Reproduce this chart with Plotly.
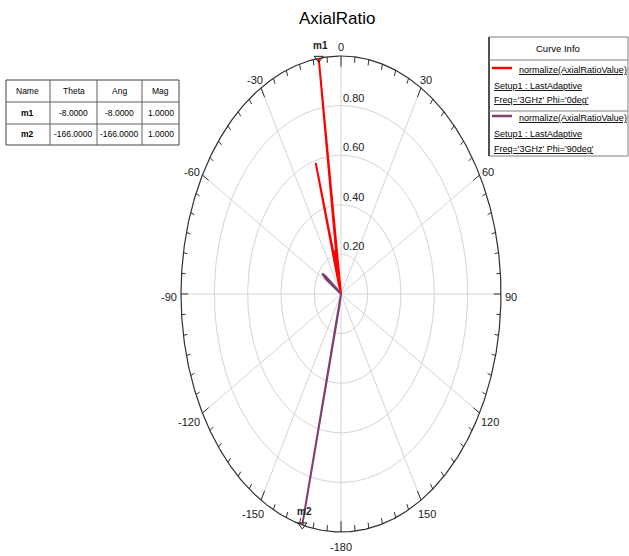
import numpy as np
import plotly.graph_objects as go

# ---- data -------------------------------------------------------------
# normalize(AxialRatioValue), Freq='3GHz', Phi='0deg'
theta_phi0 = [-180, -90, -40, -26, -22, -20, -18, -16, -14, -12, -10, -8, -6, -4, -2, 0, 30, 90, 180]
ar_phi0 = [0.0, 0.0, 0.01, 0.02, 0.03, 0.04, 0.10, 0.59, 0.12, 0.22, 0.20, 1.0, 0.10, 0.04, 0.02, 0.0, 0.0, 0.0, 0.0]

# normalize(AxialRatioValue), Freq='3GHz', Phi='90deg'
theta_phi90 = [-180, -174, -170, -168, -166, -164, -162, -158, -120, -90, -60, -58, -56, -54, -52, -50, -48, -40, 0, 90, 180]
ar_phi90 = [0.03, 0.04, 0.06, 0.10, 1.0, 0.08, 0.05, 0.03, 0.02, 0.02, 0.04, 0.06, 0.15, 0.18, 0.16, 0.08, 0.05, 0.02, 0.0, 0.0, 0.03]

# marker table
marker_names = ["m1", "m2"]
marker_theta = [-8.0, -166.0]
marker_ang = [-8.0, -166.0]
marker_mag = [1.0, 1.0]

ring_values = [0.2, 0.4, 0.6, 0.8]
angle_labels = [0, 30, 60, 90, 120, 150, -180, -150, -120, -90, -60, -30]

curve_names = ["normalize(AxialRatioValue)", "normalize(AxialRatioValue)"]
curve_setup = ["Setup1 : LastAdaptive", "Setup1 : LastAdaptive"]
curve_freq = ["Freq='3GHz' Phi='0deg'", "Freq='3GHz' Phi='90deg'"]

# ---- style ------------------------------------------------------------
W, H = 629, 556
CX, CY = 341, 294          # plot centre (px)
RX, RY = 160, 238          # outer radius in x / y (px)
R_MIN, R_MAX = 0.04, 1.0   # radial axis range
RED = "#ff0000"
PLUM = "#7d3f6e"
GRID = "#d4d4d4"
FONT = "Liberation Sans, Arial"


def rho(r):
    r = np.asarray(r, dtype=float)
    return np.clip((r - R_MIN) / (R_MAX - R_MIN), 0, None)


def to_xy(theta_deg, r):
    t = np.radians(np.asarray(theta_deg, dtype=float))
    p = rho(r)
    return p * np.sin(t), p * np.cos(t)


def px(x):
    return x / W


def py(y):
    return 1 - y / H


fig = go.Figure()

# ---- polar grid -------------------------------------------------------
t = np.linspace(0, 2 * np.pi, 721)
for rv in ring_values:
    p = float(rho(rv))
    fig.add_trace(go.Scatter(x=p * np.sin(t), y=p * np.cos(t), mode="lines",
                             line=dict(color=GRID, width=1), hoverinfo="skip", showlegend=False))
for a in range(0, 360, 30):
    ar = np.radians(a)
    fig.add_trace(go.Scatter(x=[0, np.sin(ar)], y=[0, np.cos(ar)], mode="lines",
                             line=dict(color=GRID, width=1), hoverinfo="skip", showlegend=False))

# outer boundary with inward ticks
fig.add_trace(go.Scatter(x=np.sin(t), y=np.cos(t), mode="lines",
                         line=dict(color="#303030", width=1.2), hoverinfo="skip", showlegend=False))
tx, ty = [], []
for a in range(0, 360, 5):
    ar = np.radians(a)
    inner = 0.955 if a % 30 == 0 else 0.975
    tx += [np.sin(ar), inner * np.sin(ar), None]
    ty += [np.cos(ar), inner * np.cos(ar), None]
fig.add_trace(go.Scatter(x=tx, y=ty, mode="lines", line=dict(color="#303030", width=1),
                         hoverinfo="skip", showlegend=False))

# ---- curves -----------------------------------------------------------
x0, y0 = to_xy(theta_phi0, ar_phi0)
fig.add_trace(go.Scatter(x=x0, y=y0, mode="lines", line=dict(color=RED, width=2),
                         name=curve_freq[0], showlegend=False))
x9, y9 = to_xy(theta_phi90, ar_phi90)
fig.add_trace(go.Scatter(x=x9, y=y9, mode="lines", line=dict(color=PLUM, width=2),
                         name=curve_freq[1], showlegend=False))

# markers m1 / m2
mx, my = to_xy(marker_theta, marker_mag)
fig.add_trace(go.Scatter(x=mx, y=my, mode="markers",
                         marker=dict(symbol="triangle-down-open", size=8, color="#202020",
                                     line=dict(width=1, color="#202020")),
                         hoverinfo="skip", showlegend=False))
annotations = []
for name, xm, ym in zip(marker_names, mx, my):
    annotations.append(dict(x=xm, y=ym, xref="x", yref="y", text="<b>%s</b>" % name,
                            showarrow=False, yshift=13, xshift=2,
                            xanchor="center", yanchor="middle",
                            font=dict(family=FONT, size=10, color="#202020")))

# angle labels, placed just outside the boundary
for a in angle_labels:
    ar = np.radians(a)
    lab = str(a)
    half_w = len(lab) * 2.8
    annotations.append(dict(x=np.sin(ar), y=np.cos(ar), xref="x", yref="y",
                            text=lab, showarrow=False, xanchor="center", yanchor="middle",
                            xshift=np.sin(ar) * (half_w + 4), yshift=np.cos(ar) * 12 - 3,
                            font=dict(family=FONT, size=11, color="#202020")))

# radial labels
for rv in ring_values:
    annotations.append(dict(x=0, y=float(rho(rv)), xref="x", yref="y", text="%.2f" % rv,
                            showarrow=False, xanchor="left", yanchor="bottom", xshift=0, yshift=0,
                            font=dict(family=FONT, size=11, color="#202020")))

# title
annotations.append(dict(x=px(337), y=py(18), xref="paper", yref="paper", text="AxialRatio",
                        showarrow=False, xanchor="center", yanchor="middle",
                        font=dict(family=FONT, size=17, color="#000000")))

shapes = []

# ---- marker table -----------------------------------------------------
col_x = [6, 50, 97, 142, 179]
row_y = [80, 102, 124, 145]
shapes.append(dict(type="rect", xref="paper", yref="paper", x0=px(col_x[0]), x1=px(col_x[-1]),
                   y0=py(row_y[0]), y1=py(row_y[-1]), line=dict(color="#404040", width=1)))
for cx in col_x[1:-1]:
    shapes.append(dict(type="line", xref="paper", yref="paper", x0=px(cx), x1=px(cx),
                       y0=py(row_y[0]), y1=py(row_y[-1]), line=dict(color="#606060", width=1)))
for ry in row_y[1:-1]:
    shapes.append(dict(type="line", xref="paper", yref="paper", x0=px(col_x[0]), x1=px(col_x[-1]),
                       y0=py(ry), y1=py(ry), line=dict(color="#606060", width=1)))
col_c = [(a + b) / 2 for a, b in zip(col_x[:-1], col_x[1:])]
header = ["Name", "Theta", "Ang", "Mag"]
rows = [header] + [["<b>%s</b>" % n, "%.4f" % th, "%.4f" % an, "%.4f" % mg]
                   for n, th, an, mg in zip(marker_names, marker_theta, marker_ang, marker_mag)]
for i, row in enumerate(rows):
    yc = (row_y[i] + row_y[i + 1]) / 2
    for j, cell in enumerate(row):
        annotations.append(dict(x=px(col_c[j]), y=py(yc), xref="paper", yref="paper", text=cell,
                                showarrow=False, xanchor="center", yanchor="middle",
                                font=dict(family=FONT, size=8.5, color="#000000")))

# ---- curve info box ---------------------------------------------------
LX0, LX1, LY0, LY1 = 489, 628, 37, 156
shapes.append(dict(type="rect", xref="paper", yref="paper", x0=px(LX0), x1=px(LX1),
                   y0=py(LY0), y1=py(LY1), line=dict(color="#808080", width=1)))
shapes.append(dict(type="line", xref="paper", yref="paper", x0=px(LX0), x1=px(LX0),
                   y0=py(LY0), y1=py(LY1), line=dict(color="#505050", width=2)))
for ly in (60, 111):
    shapes.append(dict(type="line", xref="paper", yref="paper", x0=px(LX0), x1=px(LX1),
                       y0=py(ly), y1=py(ly), line=dict(color="#808080", width=1)))
annotations.append(dict(x=px(558), y=py(48), xref="paper", yref="paper", text="Curve Info",
                        showarrow=False, xanchor="center", yanchor="middle",
                        font=dict(family=FONT, size=9.5, color="#000000")))

U = '<span style="text-decoration:underline">%s</span>'
entry_y = [(70, 86, 100), (118, 134, 149)]
for k, color in enumerate([RED, PLUM]):
    y1, y2, y3 = entry_y[k]
    shapes.append(dict(type="line", xref="paper", yref="paper", x0=px(492), x1=px(512),
                       y0=py(y1 - 2), y1=py(y1 - 2), line=dict(color=color, width=2.5)))
    for xx, yy, txt in ((517, y1, curve_names[k]), (492, y2, curve_setup[k]), (492, y3, curve_freq[k])):
        annotations.append(dict(x=px(xx), y=py(yy), xref="paper", yref="paper", text=U % txt,
                                showarrow=False, xanchor="left", yanchor="middle",
                                font=dict(family=FONT, size=9, color="#000000")))

fig.update_layout(
    width=W, height=H,
    margin=dict(l=0, r=0, t=0, b=0),
    paper_bgcolor="white", plot_bgcolor="white",
    xaxis=dict(range=[-CX / RX, (W - CX) / RX], visible=False, fixedrange=True),
    yaxis=dict(range=[-(H - CY) / RY, CY / RY], visible=False, fixedrange=True),
    shapes=shapes, annotations=annotations, showlegend=False,
)

fig.write_html("out.html")
